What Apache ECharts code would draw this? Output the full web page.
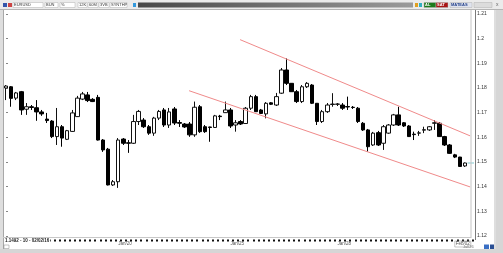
<!DOCTYPE html>
<html><head><meta charset="utf-8">
<script src="https://cdn.jsdelivr.net/npm/echarts@6/dist/echarts.min.js"></script>
<style>html,body{margin:0;padding:0;background:#fff}#c{width:503px;height:253px}</style>
</head><body><div id="c"></div>
<script>
// candle values (open, close, low, high)
const open = [1.1800,1.1805,1.1759,1.1785,1.1714,1.1724,1.1720,1.1703,1.1674,1.1666,
1.1603,1.1643,1.1592,1.1624,1.1684,1.1755,1.1772,1.1754,1.1762,1.1589,
1.1552,1.1407,1.1420,1.1593,1.1578,1.1576,1.1664,1.1670,1.1643,1.1617,
1.1678,1.1711,1.1650,1.1715,1.1660,1.1654,1.1654,1.1610,1.1724,1.1643,
1.1642,1.1640,1.1686,1.1700,1.1711,1.1650,1.1664,1.1656,1.1718,1.1765,
1.1711,1.1695,1.1740,1.1731,1.1779,1.1873,1.1819,1.1785,1.1745,1.1805,
1.1812,1.1738,1.1664,1.1704,1.1733,1.1734,1.1731,1.1725,1.1722,1.1718,
1.1657,1.1630,1.1569,1.1619,1.1576,1.1617,1.1650,1.1691,1.1659,1.1646,
1.1613,1.1617,1.1629,1.1630,1.1657,1.1657,1.1603,1.1569,1.1529,1.1520,
1.1484];
const close = [1.1808,1.1758,1.1780,1.1711,1.1724,1.1721,1.1703,1.1695,1.1668,1.1603,
1.1643,1.1597,1.1627,1.1699,1.1759,1.1776,1.1749,1.1745,1.1589,1.1549,
1.1407,1.1420,1.1589,1.1576,1.1576,1.1664,1.1705,1.1643,1.1617,1.1678,
1.1705,1.1650,1.1703,1.1658,1.1657,1.1642,1.1610,1.1722,1.1623,1.1623,
1.1640,1.1687,1.1684,1.1711,1.1646,1.1659,1.1654,1.1718,1.1765,1.1704,
1.1697,1.1738,1.1734,1.1765,1.1873,1.1819,1.1785,1.1745,1.1805,1.1819,
1.1738,1.1664,1.1704,1.1731,1.1735,1.1735,1.1718,1.1723,1.1721,1.1664,
1.1630,1.1562,1.1617,1.1569,1.1643,1.1650,1.1691,1.1650,1.1646,1.1603,
1.1611,1.1618,1.1631,1.1643,1.1659,1.1603,1.1569,1.1535,1.1520,1.1482,
1.1496];
const low = [1.1751,1.1724,1.1751,1.1691,1.1691,1.1711,1.1667,1.1687,1.1658,1.1597,
1.1569,1.1562,1.1589,1.1622,1.1683,1.1751,1.1743,1.1743,1.1587,1.1541,
1.1405,1.1403,1.1395,1.1569,1.1537,1.1573,1.1650,1.1638,1.1610,1.1606,
1.1670,1.1642,1.1638,1.1650,1.1642,1.1638,1.1602,1.1602,1.1618,1.1618,
1.1582,1.1638,1.1670,1.1699,1.1638,1.1623,1.1650,1.1654,1.1711,1.1703,
1.1695,1.1677,1.1731,1.1727,1.1776,1.1812,1.1784,1.1739,1.1739,1.1800,
1.1735,1.1650,1.1658,1.1699,1.1724,1.1727,1.1711,1.1711,1.1715,1.1658,
1.1626,1.1542,1.1565,1.1565,1.1549,1.1614,1.1646,1.1646,1.1642,1.1602,
1.1589,1.1606,1.1617,1.1626,1.1630,1.1602,1.1565,1.1533,1.1516,1.1480,
1.1480];
const high = [1.1812,1.1808,1.1784,1.1788,1.1739,1.1731,1.1751,1.1711,1.1699,1.1670,
1.1719,1.1650,1.1630,1.1711,1.1768,1.1784,1.1784,1.1759,1.1772,1.1593,
1.1557,1.1427,1.1597,1.1597,1.1589,1.1691,1.1711,1.1678,1.1650,1.1683,
1.1711,1.1719,1.1719,1.1723,1.1670,1.1658,1.1662,1.1745,1.1731,1.1650,
1.1643,1.1691,1.1691,1.1745,1.1719,1.1670,1.1670,1.1723,1.1772,1.1772,
1.1715,1.1743,1.1743,1.1780,1.1881,1.1920,1.1820,1.1792,1.1812,1.1824,
1.1816,1.1739,1.1711,1.1739,1.1779,1.1739,1.1739,1.1765,1.1727,1.1723,
1.1662,1.1634,1.1622,1.1626,1.1650,1.1654,1.1695,1.1724,1.1662,1.1650,
1.1623,1.1626,1.1643,1.1646,1.1670,1.1662,1.1606,1.1573,1.1533,1.1521,
1.1498];
// trend channel endpoints [barIndex, price]
const upperTrend = [[45.9, 1.1996], [91.0, 1.1606]];
const lowerTrend = [[35.9, 1.1789], [91.0, 1.1399]];
const lastPrice = [[90.5, 1.1496], [92.0, 1.1496]];
// axis settings
const yMin = 1.12, yMax = 1.21, yStep = 0.01;
const tickIdx = [22, 44, 65, 88];
const tickText = ['Jan/20', 'Jan/25', 'Jan/28', 'Feb/02'];
const footerText = '1.1492 - 10 - 02/02/16';

const nCat = open.length + 1;
const categories = [];
for (let i = 0; i < nCat; i++) categories.push(String(i + 1));
const candles = open.map((o, i) => [o, close[i], low[i], high[i]]);

const chart = echarts.init(document.getElementById('c'), null, {renderer: 'canvas'});
const F = 'Liberation Sans, Arial, sans-serif';
function field(x, w, txt, fill, col, bold) {
  return [
    {type: 'rect', shape: {x: x, y: 2.5, width: w, height: 5}, style: {fill: fill || '#fff', stroke: '#b0b0b0', lineWidth: 0.5}, z: 10},
    {type: 'text', x: x + 1, y: 5, style: {text: txt, fill: col || '#333', font: (bold ? 'bold ' : '') + '4px ' + F, textVerticalAlign: 'middle'}, z: 11}
  ];
}
const graphic = [].concat(
  [{type: 'rect', shape: {x: 0, y: 0, width: 503, height: 10}, style: {fill: '#ebebeb'}, z: 9},
   {type: 'line', shape: {x1: 0, y1: 9.5, x2: 503, y2: 9.5}, style: {stroke: '#b5b5b5', lineWidth: 1}, z: 10},
   {type: 'rect', shape: {x: 3, y: 3, width: 4, height: 4}, style: {fill: '#3355aa'}, z: 10},
   {type: 'rect', shape: {x: 8, y: 3, width: 4, height: 4}, style: {fill: '#cc4444'}, z: 10}],
  field(13, 30, 'EURUSD'), field(45, 13, 'BUN'), field(60, 15, '%'),
  field(78, 9, '12K'), field(88, 10, '60M'), field(99, 10, '3VB'), field(110, 17, 'SYNTHP'),
  [{type: 'rect', shape: {x: 133, y: 3, width: 3, height: 4}, style: {fill: '#3399dd'}, z: 10},
   {type: 'rect', shape: {x: 138, y: 2.5, width: 275, height: 5},
    style: {fill: new echarts.graphic.LinearGradient(0, 0, 1, 0, [{offset: 0, color: '#484848'}, {offset: 1, color: '#9a9a9a'}])}, z: 10},
   {type: 'rect', shape: {x: 415, y: 3, width: 3, height: 4}, style: {fill: '#e0a020'}, z: 10},
   {type: 'rect', shape: {x: 419, y: 3, width: 3, height: 4}, style: {fill: '#30b0c0'}, z: 10}],
  field(424, 12, 'AL', '#1d7a1d', '#fff', true), field(436, 12, 'SAT', '#a81515', '#fff', true),
  field(450, 22, 'MATEAS', '#dfe3ee', '#23408a', true), field(474, 18, '', '#dcdcdc'),
  [{type: 'text', x: 496, y: 5, style: {text: 'x', fill: '#666', font: '5px ' + F, textVerticalAlign: 'middle'}, z: 11},
   // frame
   {type: 'rect', shape: {x: 0, y: 10, width: 3, height: 243}, style: {fill: '#dedede'}, z: 9},
   {type: 'line', shape: {x1: 3.5, y1: 10, x2: 3.5, y2: 249}, style: {stroke: '#a8a8a8', lineWidth: 1}, z: 10},
   {type: 'line', shape: {x1: 471, y1: 10, x2: 471, y2: 238}, style: {stroke: '#c4c4c4', lineWidth: 1}, z: 10},
   {type: 'line', shape: {x1: 475.5, y1: 10, x2: 475.5, y2: 240}, style: {stroke: '#7a7a7a', lineWidth: 1}, z: 10},
   {type: 'line', shape: {x1: 495, y1: 10, x2: 495, y2: 249}, style: {stroke: '#bdbdbd', lineWidth: 1}, z: 10},
   {type: 'rect', shape: {x: 496, y: 10, width: 7, height: 243}, style: {fill: '#d6d6d6'}, z: 9},
   {type: 'line', shape: {x1: 3, y1: 237.5, x2: 471, y2: 237.5}, style: {stroke: '#c8c8c8', lineWidth: 1}, z: 10},
   {type: 'rect', shape: {x: 0, y: 249, width: 503, height: 4}, style: {fill: '#d6d6d6'}, z: 9},
   {type: 'text', x: 4, y: 240.5, style: {text: footerText, fill: '#222', font: 'bold 4.5px ' + F, textVerticalAlign: 'middle', backgroundColor: '#fff', padding: [0, 1]}, z: 12},
   {type: 'rect', shape: {x: 4, y: 245, width: 5, height: 3.5}, style: {fill: '#fff', stroke: '#888', lineWidth: 0.5}, z: 12},
   {type: 'text', x: 463, y: 247, style: {text: 'Jul/26', fill: '#777', font: '4px ' + F, textVerticalAlign: 'middle'}, z: 12},
   {type: 'rect', shape: {x: 484, y: 244.5, width: 5, height: 4.5}, style: {fill: '#3a6fc4'}, z: 12},
   {type: 'rect', shape: {x: 490, y: 244.5, width: 4, height: 4.5}, style: {fill: '#2a4f94'}, z: 12}]
);

chart.setOption({
  animation: false,
  backgroundColor: '#fff',
  grid: {left: 3.45, top: 14, width: 469.2, height: 222},
  xAxis: [{
    type: 'category', data: categories, boundaryGap: true, position: 'bottom', offset: 3.5,
    axisLine: {show: false},
    axisTick: {show: true, interval: 0, length: 2, lineStyle: {color: '#111', width: 2}},
    axisLabel: {
      show: true, fontSize: 4.5, fontFamily: F, color: '#555', align: 'left', margin: 1.5,
      interval: function (index) { return tickIdx.indexOf(index) >= 0; },
      formatter: function (v, index) {
        const k = tickIdx.indexOf(index);
        if (k < 0) return '';
        return k === tickIdx.length - 1 ? '{b|' + tickText[k] + '}' : tickText[k];
      },
      rich: {b: {fontSize: 4.5, fontFamily: F, color: '#555', borderColor: '#888', borderWidth: 0.5, padding: [0.5, 1]}}
    },
    splitLine: {show: false}
  }, {
    type: 'value', min: -0.5, max: nCat - 0.5, show: false
  }],
  yAxis: {
    type: 'value', position: 'right', offset: 2.35, min: yMin, max: yMax, interval: yStep,
    axisLine: {show: false},
    axisTick: {show: true, length: 2, lineStyle: {color: '#666', width: 0.8}},
    axisLabel: {fontSize: 5, fontFamily: F, color: '#333', margin: 2,
      formatter: function (v) { return String(+v.toFixed(2)); }},
    splitLine: {show: false}
  },
  graphic: graphic,
  series: [{
    type: 'candlestick', data: candles, barWidth: 4, xAxisIndex: 0,
    itemStyle: {color: '#fff', color0: '#000', borderColor: '#111', borderColor0: '#000', borderWidth: 1}
  }, {
    type: 'line', xAxisIndex: 1, data: upperTrend, symbol: 'none', clip: false,
    lineStyle: {color: '#f08a8a', width: 1}
  }, {
    type: 'line', xAxisIndex: 1, data: lowerTrend, symbol: 'none', clip: false,
    lineStyle: {color: '#f08a8a', width: 1}
  }, {
    type: 'line', xAxisIndex: 1, data: lastPrice, symbol: 'none', clip: false,
    lineStyle: {color: '#7fc8d0', width: 1}, z: 5
  }]
});
</script></body></html>
